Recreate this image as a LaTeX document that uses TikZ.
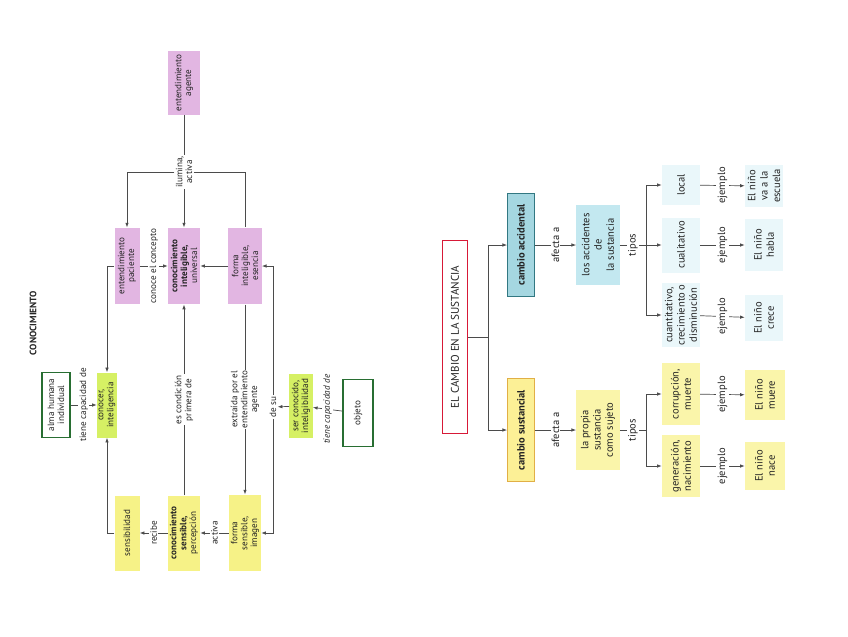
\documentclass[tikz,border=0pt]{standalone}
\usepackage{fontspec}
\setmainfont{PT Sans}
\usetikzlibrary{arrows.meta, positioning}
\definecolor{orchid}{RGB}{226,182,226}
\definecolor{lime}{RGB}{214,240,100}
\definecolor{paleyellow}{RGB}{246,242,135}
\definecolor{darkgreen}{RGB}{40,110,50}
\definecolor{linegray}{RGB}{75,75,75}
\definecolor{textgray}{RGB}{35,35,35}
\definecolor{titlered}{RGB}{215,25,55}
\definecolor{tealedge}{RGB}{50,120,130}
\definecolor{cyanfill}{RGB}{165,215,225}
\definecolor{goldedge}{RGB}{225,175,70}
\definecolor{sunfill}{RGB}{252,240,150}
\definecolor{skyfill}{RGB}{195,232,240}
\definecolor{icefill}{RGB}{234,247,250}
\definecolor{creamfill}{RGB}{250,245,170}
\newcommand\mapfont{\fontsize{7.8}{8.4}\selectfont}
\newcommand\bigmapfont{\fontsize{9}{10.5}\selectfont}
\tikzset{
    card/.style={rectangle, rotate=90, align=center, inner sep=1pt, text=textgray, font=\mapfont},
    pinkcard/.style={card, fill=orchid},
    limecard/.style={card, fill=lime},
    yellowcard/.style={card, fill=paleyellow},
    greenframe/.style={card, draw=darkgreen, line width=1.2pt, fill=white},
    bigcard/.style={card, font=\bigmapfont},
    word/.style={rotate=90, fill=white, align=center, inner sep=1pt, text=textgray, font=\mapfont},
    bigword/.style={word, font=\bigmapfont},
    wire/.style={linegray, line width=0.6pt},
    arrow/.style={-{Latex[length=4pt, width=3pt]}, linegray, line width=0.6pt}
}
\begin{document}
\begin{tikzpicture}[x=0.3mm, y=-0.3mm]
\useasboundingbox (0,0) rectangle (848,636);

% conocimiento
\node (conotitle) [rotate=90, font=\fontsize{8}{9}\selectfont\bfseries, text=textgray] at (33,323) {CONOCIMIENTO};
\node (entagente) [pinkcard, minimum width=19mm, minimum height=9.6mm] at (184,83) {entendimiento\\agente};
\node (ilumina) [word] at (184,172) {ilumina,\\activa};
\node (entpac) [pinkcard, minimum width=23mm, minimum height=7.5mm] at (127,266) {entendimiento\\paciente};
\node (conint) [pinkcard, minimum width=23mm, minimum height=9.6mm] at (184,266) {\textbf{conocimiento}\\\textbf{inteligible,}\\universal};
\node (formaint) [pinkcard, minimum width=23mm, minimum height=10mm] at (245,266) {forma\\inteligible,\\esencia};
\node (alma) [greenframe, minimum width=19.5mm, minimum height=8.4mm] at (56,405) {alma humana\\individual};
\node (conocer) [limecard, minimum width=19.5mm, minimum height=6mm] at (107,405) {conocer,\\inteligencia};
\node (desu) [word] at (273,407) {de su};
\node (ser) [limecard, minimum width=19mm, minimum height=7mm] at (301,406) {ser conocido,\\inteligibilidad};
\node (objeto) [greenframe, minimum width=20mm, minimum height=9mm] at (358,413) {objeto};
\node (sensib) [yellowcard, minimum width=22.5mm, minimum height=7.5mm] at (127,533) {sensibilidad};
\node (consens) [yellowcard, minimum width=22.5mm, minimum height=9.6mm] at (184,533) {\textbf{conocimiento}\\\textbf{sensible,}\\percepción};
\node (formasens) [yellowcard, minimum width=23mm, minimum height=9.6mm] at (245,533) {forma\\sensible,\\imagen};

\draw [wire] (entagente) -- (ilumina);
\draw [arrow] (ilumina) -| (entpac);
\draw [arrow] (ilumina) -- (conint);
\draw [wire] (ilumina) -| (formaint);
\draw [arrow] (entpac) -- node[word] {conoce el concepto} (conint);
\draw [arrow] (formaint) -- (conint);
\draw [arrow] (entpac) -| (conocer);
\draw [arrow] (alma) -- node[word] {tiene capacidad de} (conocer);
\draw [arrow] (sensib) -| (conocer);
\draw [arrow] (consens) -- node[word] {recibe} (sensib);
\draw [arrow] (formasens) -- node[word] {activa} (consens);
\draw [arrow] (consens) -- node[word] {es condición\\primera de} (conint);
\draw [arrow] (formaint) -- node[word] {extraída por el\\entendimiento\\agente} (formasens);
\draw [arrow] (desu) |- (formaint);
\draw [arrow] (desu) |- (formasens);
\draw [arrow] (ser) -- (desu);
\draw [arrow] (objeto) -- node[word, font=\mapfont\itshape] {tiene capacidad de} (ser);

% cambio en la sustancia
\node (cambiotitle) [card, draw=titlered, line width=1.4pt, fill=white, font=\fontsize{9.5}{11}\selectfont, minimum width=58mm, minimum height=7.5mm] at (455,337) {EL CAMBIO EN LA SUSTANCIA};
\coordinate (fork) at (488,337);
\node (cacc) [bigcard, draw=tealedge, line width=1pt, fill=cyanfill, font=\bigmapfont\bfseries, minimum width=31mm, minimum height=8mm] at (521,245) {cambio accidental};
\node (csus) [bigcard, draw=goldedge, line width=1pt, fill=sunfill, font=\bigmapfont\bfseries, minimum width=31mm, minimum height=8mm] at (521,430) {cambio sustancial};
\node (losacc) [bigcard, fill=skyfill, minimum width=24mm, minimum height=13mm] at (598,245) {los accidentes\\de\\la sustancia};
\node (propia) [bigcard, fill=creamfill, minimum width=24mm, minimum height=13mm] at (598,430) {la propia\\sustancia\\como sujeto};
\node (tiposA) [bigword] at (633,245) {tipos};
\node (tiposB) [bigword] at (633,430) {tipos};
\coordinate (forkA) at (646,245);
\coordinate (forkB) at (646,430);
\node (local) [bigcard, fill=icefill, minimum width=12mm, minimum height=11.4mm] at (681,185) {local};
\node (cualit) [bigcard, fill=icefill, minimum width=16.5mm, minimum height=11.4mm] at (681,245) {cualitativo};
\node (cuant) [bigcard, fill=icefill, minimum width=18mm, minimum height=11.4mm] at (681,315) {cuantitativo,\\crecimiento o\\disminución};
\node (corrup) [bigcard, fill=creamfill, minimum width=18.5mm, minimum height=11.4mm] at (681,394) {corrupción,\\muerte};
\node (gener) [bigcard, fill=creamfill, minimum width=18.5mm, minimum height=11.4mm] at (681,466) {generación,\\nacimiento};
\node (ninoA) [bigcard, fill=icefill, minimum width=12.5mm, minimum height=11.4mm] at (764,186) {El niño\\va a la\\escuela};
\node (ninoB) [bigcard, fill=icefill, minimum width=15.5mm, minimum height=11.4mm] at (764,245) {El niño\\habla};
\node (ninoC) [bigcard, fill=icefill, minimum width=14mm, minimum height=11.4mm] at (764,318) {El niño\\crece};
\node (ninoD) [bigcard, fill=creamfill, minimum width=15mm, minimum height=12mm] at (765,395) {El niño\\muere};
\node (ninoE) [bigcard, fill=creamfill, minimum width=14.5mm, minimum height=12mm] at (765,466) {El niño\\nace};

\draw [wire] (cambiotitle) -- (fork);
\draw [arrow] (fork) |- (cacc);
\draw [arrow] (fork) |- (csus);
\draw [arrow] (cacc) -- node[bigword] {afecta a} (losacc);
\draw [arrow] (csus) -- node[bigword] {afecta a} (propia);
\draw [wire] (losacc) -- (tiposA) -- (forkA);
\draw [wire] (propia) -- (tiposB) -- (forkB);
\draw [arrow] (forkA) |- (local);
\draw [arrow] (forkA) -- (cualit);
\draw [arrow] (forkA) |- (cuant);
\draw [arrow] (forkB) |- (corrup);
\draw [arrow] (forkB) |- (gener);
\draw [arrow] (local) -- node[bigword] {ejemplo} (ninoA);
\draw [arrow] (cualit) -- node[bigword] {ejemplo} (ninoB);
\draw [arrow] (cuant) -- node[bigword] {ejemplo} (ninoC);
\draw [arrow] (corrup) -- node[bigword] {ejemplo} (ninoD);
\draw [arrow] (gener) -- node[bigword] {ejemplo} (ninoE);
\end{tikzpicture}
\end{document}
